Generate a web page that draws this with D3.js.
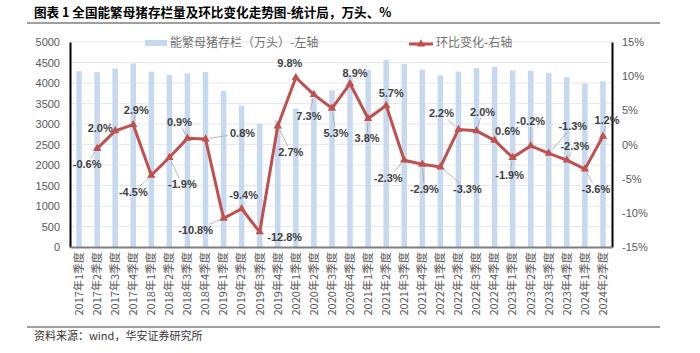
<!DOCTYPE html>
<html>
<head>
<meta charset="UTF-8"/>
<style>
  body { margin: 0; background: #fff; }
  svg text { font-family: "Liberation Sans", Arial, sans-serif; }
  .cjk { font-family: "Noto Sans CJK SC", sans-serif; }
</style>
</head>
<body>
<script src="https://d3js.org/d3.v7.min.js"></script>
<script>
// categories: 2017Q1 .. 2024Q2
var quarters = [];
for (var y = 2017; y <= 2024; y++) {
    for (var q = 1; q <= 4; q++) {
        if (y === 2024 && q > 2) break;
        quarters.push(y + "年" + q + "季度");
    }
}
// 能繁母猪存栏（万头）
var sowStock = [4290, 4265, 4350, 4476, 4275, 4194, 4232, 4266, 3805, 3447,
                3006, 3087, 3380, 3629, 3822, 4161, 4318, 4564, 4459, 4329,
                4185, 4277, 4362, 4390, 4305, 4296, 4240, 4142, 3992, 4038];
// 环比变化（%）, first quarter has none
var qoqChange = [null, -0.6, 2.0, 2.9, -4.5, -1.9, 0.9, 0.8, -10.8, -9.4,
                 -12.8, 2.7, 9.8, 7.3, 5.3, 8.9, 3.8, 5.7, -2.3, -2.9,
                 -3.3, 2.2, 2.0, 0.6, -1.9, -0.2, -1.3, -2.3, -3.6, 1.2];
var leftTicks = [0, 500, 1000, 1500, 2000, 2500, 3000, 3500, 4000, 4500, 5000];
var rightTicks = [-15, -10, -5, 0, 5, 10, 15];

// label placement (offset of label centre from its point)
var labelOffsets = [null, [-10, 16], [-15, -3], [3, -15], [-18, 17], [13, 27], [-8, -16], [37, -6],
    [-28, 12], [2, -14], [25, 5], [13, 26], [-6, -14], [-5, 22], [4, 25], [5, -11], [-1, 20],
    [5, -12], [-16, 18], [2, 25], [27, 22], [-17, -16], [6, -19], [13, -9], [-3, 18], [0, -25],
    [24, -27], [8, -14], [11, 20], [4, -16]];

var width = 700, height = 353;
var plotL = 70, plotR = 612, plotT = 42, plotB = 247;
var barColor = "#c6d9f0", lineColor = "#c0504d", textColor = "#595959";

var svg = d3.select("body").append("svg")
    .attr("width", width)
    .attr("height", height);

// title
svg.append("text").attr("class", "cjk")
    .attr("x", 34).attr("y", 17)
    .attr("font-size", 12.6).attr("font-weight", "bold").attr("fill", "#000")
    .text("图表 1 全国能繁母猪存栏量及环比变化走势图-统计局，万头、%");
svg.append("line").attr("x1", 27).attr("x2", 660).attr("y1", 23).attr("y2", 23)
    .attr("stroke", "#7f7f7f").attr("stroke-width", 1.5);
svg.append("line").attr("x1", 27).attr("x2", 660).attr("y1", 327).attr("y2", 327)
    .attr("stroke", "#7f7f7f").attr("stroke-width", 1.5);
svg.append("text").attr("class", "cjk")
    .attr("x", 34).attr("y", 340)
    .attr("font-size", 11).attr("fill", "#333")
    .text("资料来源：wind，华安证券研究所");

var x = d3.scaleBand().domain(quarters).range([plotL, plotR]);
var yL = d3.scaleLinear().domain([0, 5000]).range([plotB, plotT]);
var yR = d3.scaleLinear().domain([-15, 15]).range([plotB, plotT]);

// grid
svg.append("g").selectAll("line").data(leftTicks.slice(1)).enter().append("line")
    .attr("x1", plotL).attr("x2", plotR)
    .attr("y1", function(d) { return yL(d); }).attr("y2", function(d) { return yL(d); })
    .attr("stroke", "#e8e8e8").attr("stroke-width", 1);

// bars
var barW = 5.5;
svg.append("g").selectAll("rect").data(sowStock).enter().append("rect")
    .attr("x", function(d, i) { return x(quarters[i]) + x.bandwidth() / 2 - barW / 2; })
    .attr("y", function(d) { return yL(d); })
    .attr("width", barW)
    .attr("height", function(d) { return yL(0) - yL(d); })
    .attr("fill", barColor);

// axes
var gL = svg.append("g").attr("transform", "translate(" + plotL + ",0)")
    .call(d3.axisLeft(yL).tickValues(leftTicks).tickSize(0).tickPadding(10)
        .tickFormat(d3.format("d")));
gL.select(".domain").attr("stroke", "#000").attr("stroke-width", 2);
gL.selectAll("text").attr("font-size", 11).attr("fill", textColor)
    .attr("font-family", "Liberation Sans, Arial, sans-serif");

var gR = svg.append("g").attr("transform", "translate(" + plotR + ",0)")
    .call(d3.axisRight(yR).tickValues(rightTicks).tickSize(0).tickPadding(10)
        .tickFormat(function(d) { return d + "%"; }));
gR.select(".domain").attr("stroke", "#000").attr("stroke-width", 2);
gR.selectAll("text").attr("font-size", 11).attr("fill", textColor)
    .attr("font-family", "Liberation Sans, Arial, sans-serif");

var gX = svg.append("g").attr("transform", "translate(0," + plotB + ")")
    .call(d3.axisBottom(x).tickSize(0).tickPadding(0));
gX.select(".domain").attr("stroke", "#7f7f7f").attr("stroke-width", 2);
gX.selectAll("text")
    .attr("class", "cjk")
    .attr("font-size", 11).attr("fill", textColor)
    .attr("transform", "rotate(-90)")
    .attr("text-anchor", "end")
    .attr("dy", "0.35em")
    .attr("x", -5).attr("y", 0);

// line
var pts = qoqChange.map(function(v, i) {
    return v === null ? null : { v: v, i: i, px: x(quarters[i]) + x.bandwidth() / 2, py: yR(v) };
}).filter(function(d) { return d; });

svg.append("path").datum(pts)
    .attr("d", d3.line().x(function(d) { return d.px; }).y(function(d) { return d.py; }))
    .attr("fill", "none").attr("stroke", lineColor).attr("stroke-width", 3)
    .attr("stroke-linejoin", "round");

svg.append("g").selectAll("path").data(pts).enter().append("path")
    .attr("d", d3.symbol().type(d3.symbolTriangle).size(30))
    .attr("transform", function(d) { return "translate(" + d.px + "," + d.py + ")"; })
    .attr("fill", lineColor);

// data labels with leader lines
var lg = svg.append("g");
pts.forEach(function(d) {
    var off = labelOffsets[d.i];
    var cx = d.px + off[0], cy = d.py + off[1];
    var label = d.v.toFixed(1) + "%";
    var t = lg.append("text")
        .attr("x", cx).attr("y", cy)
        .attr("text-anchor", "middle").attr("dy", "0.35em")
        .attr("font-size", 11).attr("font-weight", "bold").attr("fill", "#404040")
        .text(label);
    var bb = t.node().getBBox();
    var hw = bb.width / 2 + 2, hh = bb.height / 2;
    var dx = cx - d.px, dy = cy - d.py;
    // leave the box edge along the line toward the point
    var s = Math.min(Math.abs(dx) > 0 ? hw / Math.abs(dx) : 1e9, Math.abs(dy) > 0 ? hh / Math.abs(dy) : 1e9);
    var ex = cx - dx * s, ey = cy - dy * s;
    var len = Math.hypot(ex - d.px, ey - d.py);
    if (s < 1 && len > 9) {
        var k = 4 / len;
        lg.append("line")
            .attr("x1", d.px + (ex - d.px) * k).attr("y1", d.py + (ey - d.py) * k)
            .attr("x2", ex).attr("y2", ey)
            .attr("stroke", "#a6a6a6").attr("stroke-width", 0.8);
    }
});

// legend
var leg = svg.append("g");
leg.append("rect").attr("x", 145).attr("y", 40).attr("width", 22).attr("height", 6).attr("fill", barColor);
leg.append("text").attr("class", "cjk").attr("x", 170).attr("y", 43).attr("dy", "0.35em")
    .attr("font-size", 12).attr("fill", "#707070").text("能繁母猪存栏（万头）-左轴");
leg.append("line").attr("x1", 409).attr("x2", 433).attr("y1", 44).attr("y2", 44)
    .attr("stroke", lineColor).attr("stroke-width", 3);
leg.append("path").attr("d", d3.symbol().type(d3.symbolTriangle).size(30))
    .attr("transform", "translate(421,44)").attr("fill", lineColor);
leg.append("text").attr("class", "cjk").attr("x", 436).attr("y", 43).attr("dy", "0.35em")
    .attr("font-size", 12).attr("fill", "#707070").text("环比变化-右轴");
</script>
</body>
</html>
